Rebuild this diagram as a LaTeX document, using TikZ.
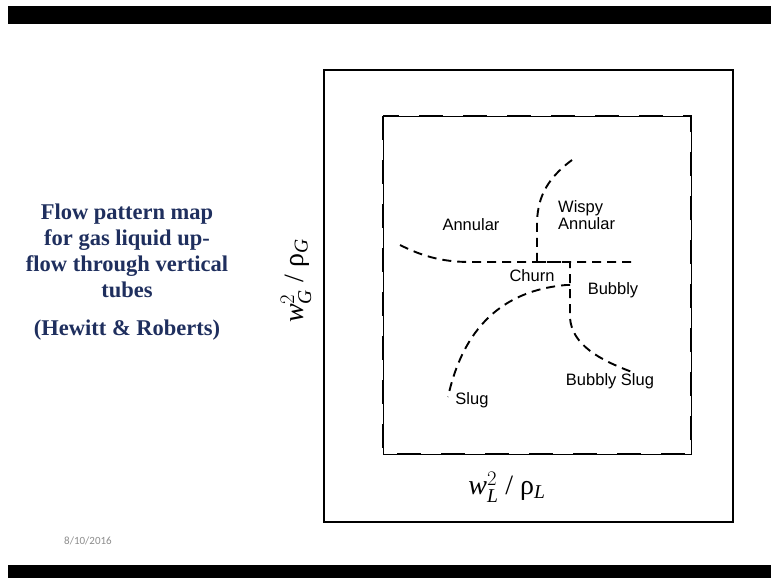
\documentclass[tikz,border=0pt]{standalone}
\usepackage{amsmath}
\usepackage{fontspec}
\setmainfont{Liberation Serif}
\setsansfont{Liberation Sans}
\newfontfamily\datefont{Carlito}
\usetikzlibrary{positioning}
\definecolor{titleNavy}{HTML}{1F2F5E}
\tikzset{
    font=\sffamily,
    % Frames
    band/.style={fill=black, draw=none},
    outerFrame/.style={draw=black, line width=1.8pt},
    plotFrame/.style={draw=black, line width=0.9pt},
    plotDash/.style={draw=black, line width=2.4pt, dash pattern=on 24pt off 20pt},
    % Curves & Labels
    boundary/.style={draw=black, line width=1.9pt, dash pattern=on 9pt off 6pt},
    regime/.style={font=\fontsize{16.5}{17}\sffamily, inner sep=1pt, align=left},
    axisLbl/.style={font=\fontsize{28}{30}\selectfont, inner sep=0pt},
    title/.style={font=\fontsize{22.5}{26}\selectfont\bfseries, text=titleNavy, align=center, inner sep=0pt}
}

\begin{document}
\begin{tikzpicture}[x=1pt, y=-1pt]
\useasboundingbox (0,0) rectangle (771,578);

% slide bands
\fill[band] (8,6) rectangle (771,24);
\fill[band] (8,565) rectangle (771,578);

% title
\node[title] (head) at (127,251) {Flow pattern map\\for gas liquid up-\\flow through vertical\\tubes};
\node[title, below=22pt of head] (src) {(Hewitt \& Roberts)};
\node[font=\fontsize{11}{13}\datefont, text=black!45] (date) at (88,541) {8/10/2016};

% frames
\draw[outerFrame] (324,70) rectangle (733,522);
\draw[plotFrame] (383,116) rectangle (691,454);
\draw[plotDash] (383,116) rectangle (691,454);

% regime boundaries
\coordinate (ac) at (537,262);
\coordinate (cb) at (570,262);
\coordinate (cs) at (570,285);
\draw[boundary] (400,245) .. controls (420,255) and (440,262) .. (470,262) -- (635,262);
\draw[boundary] (572,160) .. controls (545,180) and (537,200) .. (537,225) -- (ac);
\draw[boundary] (ac) -- (cb) -- (570,318) .. controls (572,345) and (600,360) .. (632,372);
\draw[boundary] (cs) -- (566,285) .. controls (510,290) and (465,320) .. (448,397);

% regimes
\node[regime] (annular) at (471,225) {Annular};
\node[regime, anchor=west] (wispy) at (557,215) {Wispy\\Annular};
\node[regime] (churn) at (532,276) {Churn};
\node[regime] (bubbly) at (613,290) {Bubbly};
\node[regime] (bslug) at (610,381) {Bubbly Slug};
\node[regime] (slug) at (472,400) {Slug};

% axes
\node[axisLbl] (xlab) at (507,487) {$\textit{w}^{2}_{\textit{L}}$ / ρ$_{\textit{L}}$};
\node[axisLbl, rotate=90] (ylab) at (296,281) {$\textit{w}^{2}_{\textit{G}}$ / ρ$_{\textit{G}}$};

\end{tikzpicture}
\end{document}
